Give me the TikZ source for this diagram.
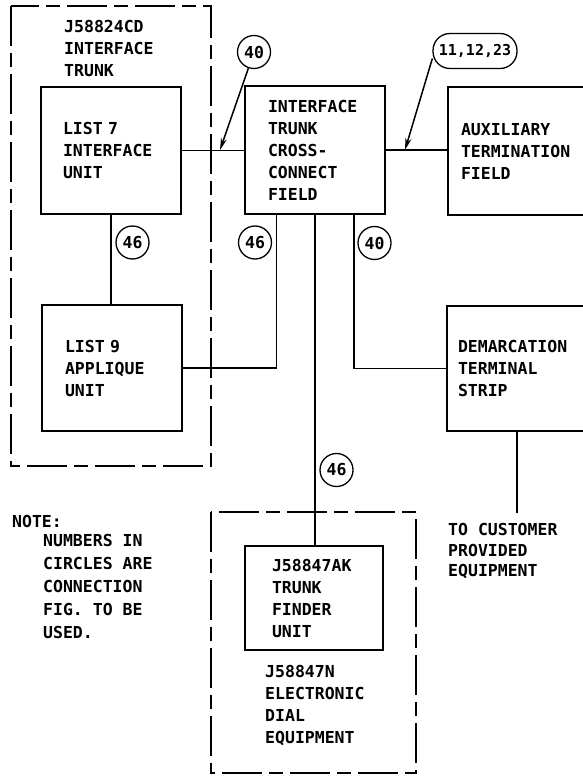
\documentclass[tikz,border=0pt]{standalone}
\usepackage{fontspec}
\usepackage{tikz}
\usetikzlibrary{arrows.meta}
\newfontfamily\drawfont{DejaVu Sans Mono}[BoldFont={DejaVu Sans Mono Bold}]
\newcommand{\figfont}{\drawfont\bfseries\fontsize{16.5}{22}\selectfont}

\tikzset{
  unitbox/.style={draw, line width=1.5pt, align=left, inner ysep=0pt, font=\figfont},
  conncircle/.style={draw, circle, line width=1.3pt, minimum size=33pt, inner sep=0pt, font=\figfont},
  link/.style={line width=1.5pt},
  pointer/.style={line width=1.5pt, -{Stealth[length=12pt,width=6pt]}},
  housing/.style={line width=1.5pt, dash pattern=on 40pt off 7pt on 14pt off 7pt},
  caption/.style={align=left, inner sep=0pt, anchor=west, font=\figfont},
}

\begin{document}
\begin{tikzpicture}[x=1pt, y=-1pt]
    \clip (0,0) rectangle (583,776);
    % equipment housings
    \draw[housing] (11,6) rectangle (211,466);
    \draw[housing] (211,512) rectangle (416,773);
    \node[caption] (trunklbl) at (64,48.5) {J58824CD\\INTERFACE\\TRUNK};
    \node[caption] (diallbl) at (265,705.5) {J58847N\\ELECTRONIC\\DIAL\\EQUIPMENT};

    % units
    \node[unitbox, minimum width=140pt, minimum height=127pt, inner xsep=22pt, text width=96pt] (list7) at (111,150.5) {LIST 7\\INTERFACE\\UNIT};
    \node[unitbox, minimum width=140pt, minimum height=126pt, inner xsep=23pt, text width=94pt] (list9) at (112,368) {LIST 9\\APPLIQUE\\UNIT};
    \node[unitbox, minimum width=140pt, minimum height=128pt, inner xsep=23pt, text width=94pt] (xconn) at (315,150) {INTERFACE\\TRUNK\\CROSS-\\CONNECT\\FIELD};
    \node[unitbox, minimum width=140pt, minimum height=128pt, inner xsep=13pt, text width=114pt] (aux) at (518,151) {AUXILIARY\\TERMINATION\\FIELD};
    \node[unitbox, minimum width=140pt, minimum height=125pt, inner xsep=11pt, text width=118pt] (demarc) at (517,368.5) {DEMARCATION\\TERMINAL\\STRIP};
    \node[unitbox, minimum width=138pt, minimum height=104pt, inner xsep=27pt, text width=84pt] (finder) at (314,598) {J58847AK\\TRUNK\\FINDER\\UNIT};

    % connections
    \draw[link] (list7.east) -- (list7.east -| xconn.west);
    \draw[link] (xconn.east) -- (xconn.east -| aux.west);
    \draw[link] (list7.south) -- (list7.south |- list9.north);
    \coordinate (xleft) at ([xshift=32pt]xconn.south west);
    \coordinate (xright) at ([xshift=-32pt]xconn.south east);
    \draw[link] (xleft) |- (list9.east);
    \draw[link] (xright) |- (demarc.west);
    \draw[link] (xconn.south) -- (xconn.south |- finder.north);
    \coordinate (custend) at (517,513);
    \draw[link] (demarc.south) -- (custend);

    % connection figure numbers
    \node[conncircle] (c40a) at (254,52) {40};
    \node[conncircle] (c46a) at (132.5,242.5) {46};
    \node[conncircle] (c46b) at (255,242.5) {46};
    \node[conncircle] (c40b) at (374.5,243) {40};
    \node[conncircle] (c46c) at (336.5,470) {46};
    \node[draw, line width=1.3pt, rounded corners=17pt, minimum width=84pt, minimum height=35pt, inner sep=0pt,
          font=\drawfont\bfseries\fontsize{15}{17}\selectfont] (c11) at (475,51) {11,12,23};
    \coordinate (tipa) at (220,150);
    \coordinate (tipb) at (405,150);
    \draw[pointer] (c40a) -- (tipa);
    \draw[pointer] (c11.190) -- (tipb);

    % notes
    \node[caption] (notehead) at (12,521) {NOTE:};
    \node[caption, font=\drawfont\bfseries\fontsize{16.5}{23}\selectfont] (notebody) at (43,586.5) {NUMBERS IN\\CIRCLES ARE\\CONNECTION\\FIG. TO BE\\USED.};
    \node[caption, font=\drawfont\bfseries\fontsize{16.5}{20.5}\selectfont] (custlbl) at (448,551.5) {TO CUSTOMER\\PROVIDED\\EQUIPMENT};
\end{tikzpicture}
\end{document}
